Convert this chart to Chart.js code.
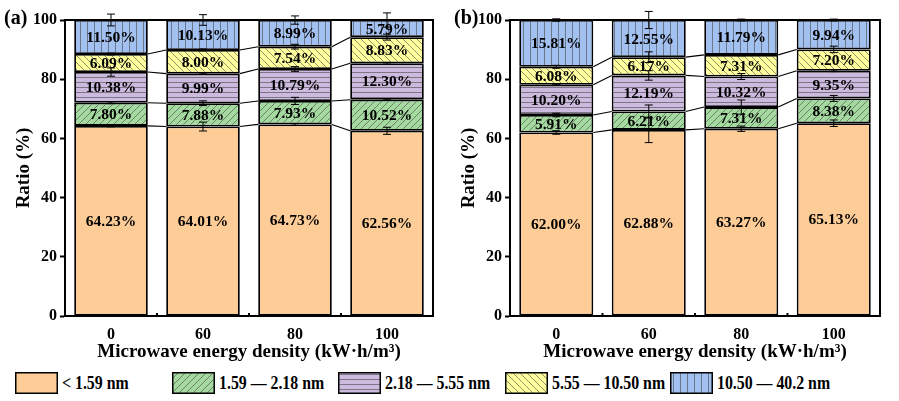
<!DOCTYPE html>
<html>
<head>
<meta charset="utf-8">
<script src="https://cdn.jsdelivr.net/npm/chart.js@4.4.1/dist/chart.umd.min.js"></script>
<style>
body { margin: 0; background: #fff; width: 899px; height: 401px; overflow: hidden; position: relative; font-family: 'Liberation Serif', 'Times New Roman', serif; }
#wa { position: absolute; left: 0; top: 0; width: 450px; height: 366px; }
#wb { position: absolute; left: 450px; top: 0; width: 449px; height: 366px; }
#legend { position: absolute; left: 0; top: 371px; width: 899px; height: 26px; }
.item { position: absolute; top: 0; height: 24px; display: flex; align-items: center; font-weight: bold; font-size: 18px; white-space: nowrap; }
.item canvas { margin-right: 4px; }
.item span { display: inline-block; transform: scaleX(0.88); transform-origin: left center; }
</style>
</head>
<body>
<div id="wa"><canvas id="chartA"></canvas></div>
<div id="wb"><canvas id="chartB"></canvas></div>
<div id="legend"></div>
<script>
const categories = ["0", "60", "80", "100"];
const seriesNames = ["< 1.59 nm", "1.59 — 2.18 nm", "2.18 — 5.55 nm", "5.55 — 10.50 nm", "10.50 — 40.2 nm"];
const yTicks = [0, 20, 40, 60, 80, 100];

// panel (a)
const a_lt159 = [64.23, 64.01, 64.73, 62.56];
const a_159_218 = [7.80, 7.88, 7.93, 10.52];
const a_218_555 = [10.38, 9.99, 10.79, 12.30];
const a_555_1050 = [6.09, 8.00, 7.54, 8.83];
const a_1050_402 = [11.50, 10.13, 8.99, 5.79];
// error bars (a), +/- at top of each segment
const aErr_lt159 = [0.3, 1.5, 0.3, 1.2];
const aErr_159_218 = [0.3, 0.8, 1.2, 0.2];
const aErr_218_555 = [1.4, 0.2, 0.8, 0.3];
const aErr_555_1050 = [0.3, 0.3, 0.8, 1.0];
const aErr_1050_402 = [2.0, 1.8, 1.4, 2.4];

// panel (b)
const b_lt159 = [62.00, 62.88, 63.27, 65.13];
const b_159_218 = [5.91, 6.21, 7.31, 8.38];
const b_218_555 = [10.20, 12.19, 10.32, 9.35];
const b_555_1050 = [6.08, 6.17, 7.31, 7.20];
const b_1050_402 = [15.81, 12.55, 11.79, 9.94];
const bErr_lt159 = [0.6, 4.3, 0.9, 1.1];
const bErr_159_218 = [0.6, 2.2, 2.4, 1.0];
const bErr_218_555 = [0.2, 1.6, 1.0, 0.3];
const bErr_555_1050 = [0.5, 1.8, 0.3, 1.1];
const bErr_1050_402 = [0.4, 2.9, 0.3, 0.3];

const fillColors = ["#FECD97", "#A4DA9F", "#CDBADF", "#FFFF9E", "#A2C0F0"];
const hatchTypes = ["none", "slash", "horiz", "backslash", "vert"];

const serif = "'Liberation Serif', 'Times New Roman', serif";

function makePattern(bg, type) {
    const c = document.createElement("canvas");
    let w = 7, h = 7;
    if (type === "horiz") { w = 6; h = 5; }
    if (type === "vert") { w = 7; h = 6; }
    c.width = w; c.height = h;
    const g = c.getContext("2d");
    g.fillStyle = bg;
    g.fillRect(0, 0, w, h);
    g.strokeStyle = "rgba(70,70,70,0.85)";
    g.lineWidth = 0.7;
    g.beginPath();
    if (type === "slash") {
        g.moveTo(0, h); g.lineTo(w, 0);
        g.moveTo(-1, 1); g.lineTo(1, -1);
        g.moveTo(w - 1, h + 1); g.lineTo(w + 1, h - 1);
    } else if (type === "backslash") {
        g.moveTo(0, 0); g.lineTo(w, h);
        g.moveTo(-1, h - 1); g.lineTo(1, h + 1);
        g.moveTo(w - 1, -1); g.lineTo(w + 1, 1);
    } else if (type === "horiz") {
        g.moveTo(0, 2.5); g.lineTo(w, 2.5);
    } else if (type === "vert") {
        g.moveTo(3.5, 0); g.lineTo(3.5, h);
    }
    g.stroke();
    if (type === "none") return bg;
    return g.createPattern(c, "repeat");
}

const fills = fillColors.map((col, i) => makePattern(col, hatchTypes[i]));

const extrasPlugin = {
    id: "extras",
    afterDatasetsDraw(chart, args, opts) {
        const ctx = chart.ctx;
        const area = chart.chartArea;
        const yScale = chart.scales.y;
        const nSets = chart.data.datasets.length;
        ctx.save();
        // lines linking segment tops between neighbouring bars
        ctx.strokeStyle = "#000";
        ctx.lineWidth = 1.1;
        for (let i = 0; i < nSets - 1; i++) {
            const bars = chart.getDatasetMeta(i).data;
            for (let j = 0; j < bars.length - 1; j++) {
                const p = bars[j], q = bars[j + 1];
                ctx.beginPath();
                ctx.moveTo(p.x + p.width / 2, p.y);
                ctx.lineTo(q.x - q.width / 2, q.y);
                ctx.stroke();
            }
        }
        // small ticks between the bars on the bottom axis
        const xs = chart.scales.x;
        ctx.lineWidth = 2;
        for (let j = 0; j < chart.data.labels.length - 1; j++) {
            const mx = (xs.getPixelForValue(j) + xs.getPixelForValue(j + 1)) / 2;
            ctx.beginPath();
            ctx.moveTo(mx, area.bottom);
            ctx.lineTo(mx, area.bottom - 3);
            ctx.stroke();
        }
        // value labels
        ctx.fillStyle = "#000";
        ctx.font = "bold 15.5px " + serif;
        ctx.textAlign = "center";
        ctx.textBaseline = "middle";
        for (let i = 0; i < nSets; i++) {
            const ds = chart.data.datasets[i];
            chart.getDatasetMeta(i).data.forEach((bar, j) => {
                ctx.fillText(ds.data[j].toFixed(2) + "%", bar.x, (bar.y + bar.base) / 2 + 1);
            });
        }
        // error bars
        ctx.lineWidth = 1;
        const cum = chart.data.labels.map(() => 0);
        for (let i = 0; i < nSets; i++) {
            const ds = chart.data.datasets[i];
            chart.getDatasetMeta(i).data.forEach((bar, j) => {
                cum[j] += ds.data[j];
                const e = ds.errors[j];
                const y1 = yScale.getPixelForValue(cum[j] + e);
                const y2 = yScale.getPixelForValue(cum[j] - e);
                ctx.beginPath();
                ctx.moveTo(bar.x, y1); ctx.lineTo(bar.x, y2);
                ctx.moveTo(bar.x - 4, y1); ctx.lineTo(bar.x + 4, y1);
                ctx.moveTo(bar.x - 4, y2); ctx.lineTo(bar.x + 4, y2);
                ctx.stroke();
            });
        }
        // frame on top and right
        ctx.lineWidth = 2;
        ctx.beginPath();
        ctx.moveTo(area.left, area.top);
        ctx.lineTo(area.right, area.top);
        ctx.lineTo(area.right, area.bottom);
        ctx.stroke();
        // panel tag
        ctx.font = "bold 20px " + serif;
        ctx.textAlign = "left";
        ctx.fillText(opts.tag, 4, 19);
        ctx.restore();
    }
};

function buildChart(id, tag, series, errors, padLeft, padRight) {
    const datasets = series.map((vals, i) => ({
        label: seriesNames[i],
        data: vals,
        errors: errors[i],
        backgroundColor: fills[i],
        borderColor: "#000",
        borderWidth: 1.8,
        borderSkipped: false,
        barPercentage: 0.8,
        categoryPercentage: 1.0
    }));
    return new Chart(document.getElementById(id), {
        type: "bar",
        data: { labels: categories, datasets: datasets },
        plugins: [extrasPlugin],
        options: {
            responsive: true,
            maintainAspectRatio: false,
            animation: false,
            layout: { padding: { left: padLeft, right: padRight, top: 20, bottom: 0 } },
            plugins: {
                legend: { display: false },
                tooltip: { enabled: false },
                extras: { tag: tag }
            },
            scales: {
                x: {
                    stacked: true,
                    grid: { display: true, drawOnChartArea: false, drawTicks: false },
                    border: { display: true, color: "#000", width: 2 },
                    ticks: { color: "#000", padding: 9, font: { family: serif, weight: "bold", size: 16 } },
                    title: {
                        display: true, text: "Microwave energy density (kW·h/m³)", color: "#000",
                        font: { family: serif, weight: "bold", size: 19 }, padding: { top: 2, bottom: 3 }
                    },
                    afterFit(scale) { scale.height = 50; }
                },
                y: {
                    stacked: true,
                    min: 0, max: 100,
                    afterBuildTicks(scale) { scale.ticks = yTicks.map(v => ({ value: v })); },
                    grid: { display: true, drawOnChartArea: false, drawTicks: true, tickLength: 5, tickWidth: 2, tickColor: "#000" },
                    border: { display: true, color: "#000", width: 2 },
                    ticks: { color: "#000", padding: 3, font: { family: serif, weight: "bold", size: 16 } },
                    title: {
                        display: true, text: "Ratio (%)", color: "#000",
                        font: { family: serif, weight: "bold", size: 19 }, padding: { top: 0, bottom: 0 }
                    },
                    afterFit(scale) { scale.width = 52; }
                }
            }
        }
    });
}

buildChart("chartA", "(a)",
    [a_lt159, a_159_218, a_218_555, a_555_1050, a_1050_402],
    [aErr_lt159, aErr_159_218, aErr_218_555, aErr_555_1050, aErr_1050_402], 13, 17);
buildChart("chartB", "(b)",
    [b_lt159, b_159_218, b_218_555, b_555_1050, b_1050_402],
    [bErr_lt159, bErr_159_218, bErr_218_555, bErr_555_1050, bErr_1050_402], 8, 19);

// shared legend under both panels
const legendX = [15, 172, 338, 505, 670];
const legend = document.getElementById("legend");
seriesNames.forEach((name, i) => {
    const item = document.createElement("div");
    item.className = "item";
    item.style.left = legendX[i] + "px";
    const sw = document.createElement("canvas");
    sw.width = 43; sw.height = 22;
    const g = sw.getContext("2d");
    g.fillStyle = fills[i];
    g.fillRect(0, 0, 43, 22);
    g.strokeStyle = "#000";
    g.lineWidth = 1.5;
    g.strokeRect(0.75, 0.75, 41.5, 20.5);
    const txt = document.createElement("span");
    txt.textContent = name;
    item.appendChild(sw);
    item.appendChild(txt);
    legend.appendChild(item);
});
</script>
</body>
</html>
